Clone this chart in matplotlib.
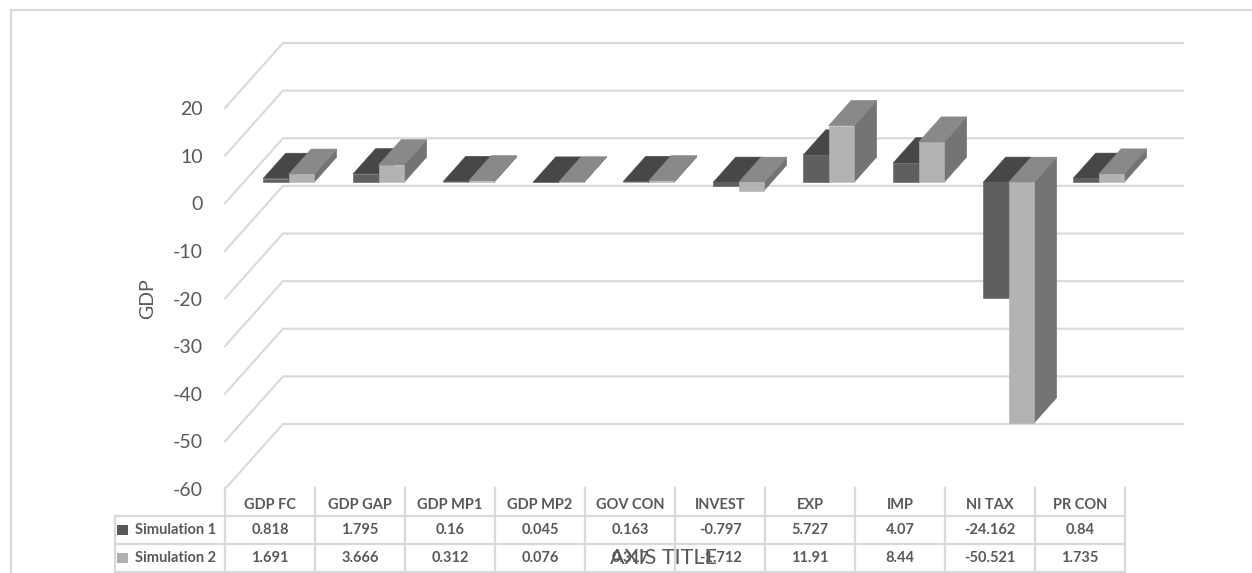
import matplotlib.pyplot as plt
from matplotlib.patches import Polygon, Rectangle
from matplotlib.lines import Line2D

plt.rcParams['font.family'] = ['Lato', 'DejaVu Sans']

categories = ['GDP FC', 'GDP GAP', 'GDP MP1', 'GDP MP2', 'GOV CON',
              'INVEST', 'EXP', 'IMP', 'NI TAX', 'PR CON']
sim1 = [0.818, 1.795, 0.16, 0.045, 0.163, -0.797, 5.727, 4.07, -24.162, 0.84]
sim2 = [1.691, 3.666, 0.312, 0.076, 0.317, -1.712, 11.91, 8.44, -50.521, 1.735]
series_names = ['Simulation 1', 'Simulation 2']
y_ticks = [20, 10, 0, -10, -20, -30, -40, -50, -60]

W, H = 1252, 573
TEXT = '#595959'
GRID = '#d9d9d9'

fig = plt.figure(figsize=(W / 100, H / 100), dpi=100)


def px_box(left, top, right, bottom):
    return [left / W, 1 - bottom / H, (right - left) / W, (bottom - top) / H]


# front plane of the 3d box
ax = fig.add_axes(px_box(225, 108, 1125, 489))
n = len(categories)
ax.set_xlim(0, n)
ax.set_ylim(min(y_ticks), max(y_ticks))

# oblique depth: d=0 front plane, d=1 back wall (offset in data units)
DX = 58 / 90
DY = 65 / (381 / 80)


def proj(x, v, d):
    return (x + d * DX, v + d * DY)


# side wall diagonals + back wall gridlines
for v in y_ticks:
    pts = [proj(0, v, 0), proj(0, v, 1), proj(n, v, 1)]
    ax.plot([p[0] for p in pts], [p[1] for p in pts], color=GRID, lw=1.5,
            clip_on=False, zorder=1, solid_joinstyle='miter')

# 3d columns
bar_w = 0.283
d0, d1 = 0.32, 0.71
faces = [dict(front='#5f5f5f', top='#474747', side='#525252'),
         dict(front='#b3b3b3', top='#898989', side='#747474')]

for i in range(n):
    for s, vals in enumerate([sim1, sim2]):
        v = vals[i]
        x0 = i + 0.5 - bar_w + s * bar_w
        x1 = x0 + bar_w
        lo, hi = min(0, v), max(0, v)
        side = [proj(x1, lo, d0), proj(x1, lo, d1), proj(x1, hi, d1), proj(x1, hi, d0)]
        top = [proj(x0, hi, d0), proj(x1, hi, d0), proj(x1, hi, d1), proj(x0, hi, d1)]
        front = [proj(x0, lo, d0), proj(x1, lo, d0), proj(x1, hi, d0), proj(x0, hi, d0)]
        for poly, key in ((side, 'side'), (top, 'top'), (front, 'front')):
            ax.add_patch(Polygon(poly, closed=True, facecolor=faces[s][key],
                                 edgecolor=faces[s][key], lw=0.4,
                                 clip_on=False, zorder=2))

ax.set_xticks([])
ax.set_yticks(y_ticks)
ax.set_yticklabels([str(t) for t in y_ticks])
ax.tick_params(axis='y', length=0, pad=16, labelsize=14, labelcolor=TEXT)
for sp in ax.spines.values():
    sp.set_visible(False)
ax.patch.set_visible(False)

ax.set_ylabel('GDP', fontsize=14, color=TEXT)
ax.yaxis.set_label_coords(-0.076, 0.5)

# data table under the chart
tax = fig.add_axes(px_box(225, 488, 1125, 572))
tax.set_xlim(0, n)
tax.set_ylim(3, 0)
tax.axis('off')

left = (115 - 225) / 90
for k in range(n + 1):
    tax.plot([k, k], [0, 3], color=GRID, lw=1.6, clip_on=False)
tax.plot([left, left], [1, 3], color=GRID, lw=1.6, clip_on=False)
for r in (1, 2, 3):
    tax.plot([left, n], [r, r], color=GRID, lw=1.6, clip_on=False)

cell_font = dict(fontsize=10.5, fontweight='bold', color=TEXT,
                 ha='center', va='center')
for i, c in enumerate(categories):
    tax.text(i + 0.5, 0.62, c, **cell_font)
for r, vals in enumerate([sim1, sim2]):
    for i, v in enumerate(vals):
        tax.text(i + 0.5, r + 1.5, '%g' % v, **cell_font)

key_colors = ['#595959', '#b0b0b0']
for r, name in enumerate(series_names):
    tax.add_patch(Rectangle((left + 0.02, r + 1.5 - 0.18), 0.12, 0.36,
                            facecolor=key_colors[r], edgecolor='none',
                            clip_on=False))
    tax.text(left + 0.22, r + 1.5, name, fontsize=10.5, fontweight='bold',
             color=TEXT, ha='left', va='center')

# horizontal axis title sits over the table
tax.text(0.487, 0.1, 'AXIS TITLE', transform=tax.transAxes, ha='center',
         va='baseline', fontsize=15.5, color=TEXT, fontweight='normal',
         zorder=10)

# chart area border
fig.add_artist(Line2D([11 / W, 1], [1 - 10 / H, 1 - 10 / H], color=GRID, lw=1.5))
fig.add_artist(Line2D([11 / W, 11 / W], [0, 1 - 10 / H], color=GRID, lw=1.5))

fig.savefig('out.png', dpi=100, facecolor='white')
